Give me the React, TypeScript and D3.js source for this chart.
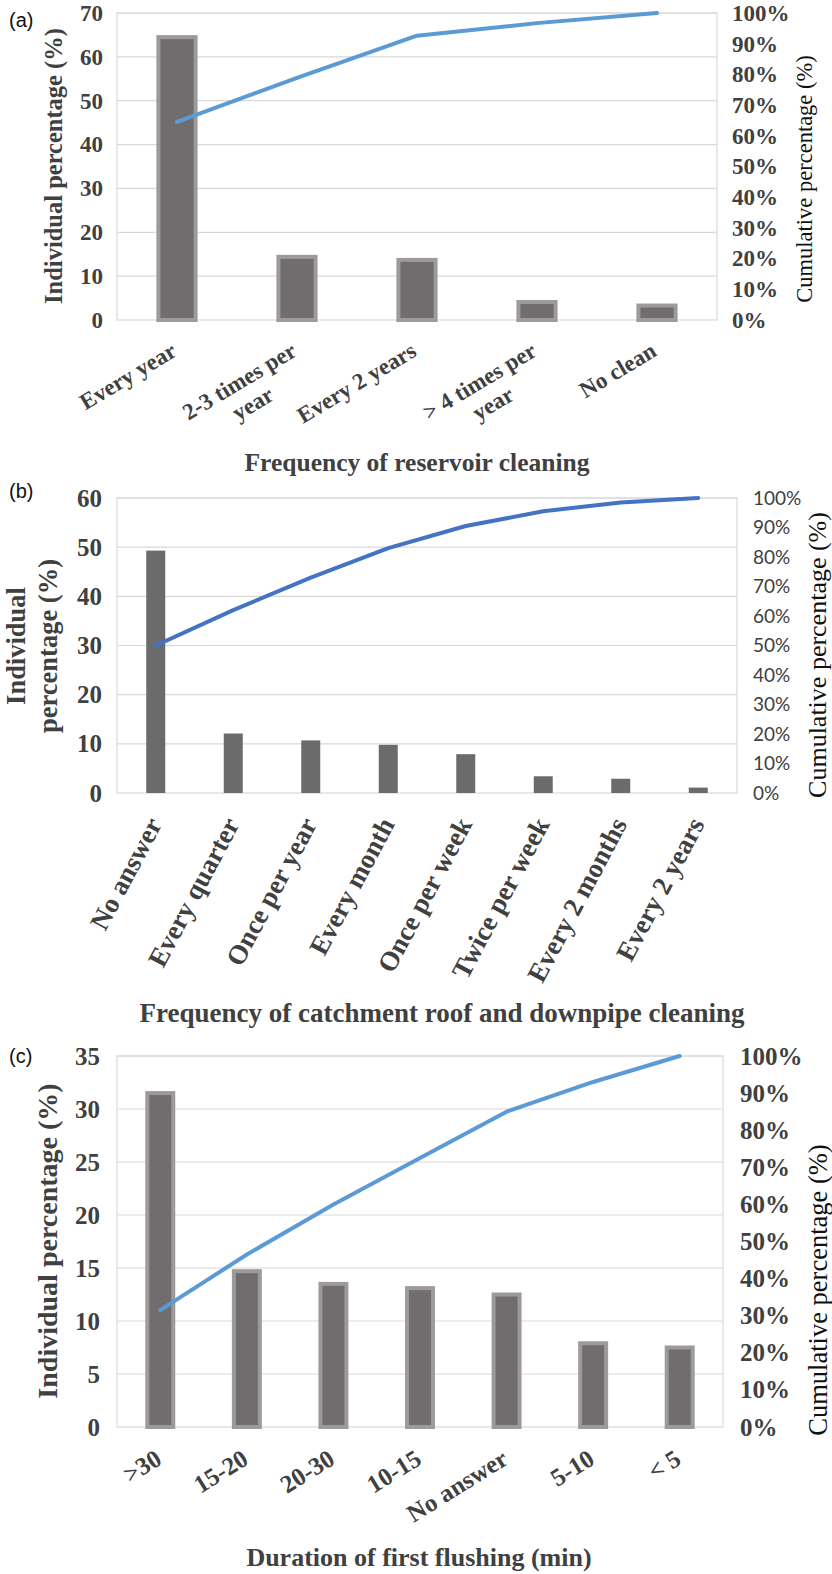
import React, { useEffect, useRef } from 'react';
import * as d3 from 'd3';

// (a) Frequency of reservoir cleaning
const catsA = ['Every year', '2-3 times per\nyear', 'Every 2 years', '> 4 times per\nyear', 'No clean'];
const valsA = [64.5, 14.4, 13.7, 4.1, 3.3];
const cumA = [64.5, 78.9, 92.6, 96.7, 100];
const ticksA = [0, 10, 20, 30, 40, 50, 60, 70];

// (b) Frequency of catchment roof and downpipe cleaning
const catsB = ['No answer', 'Every quarter', 'Once per year', 'Every month', 'Once per week', 'Twice per week', 'Every 2 months', 'Every 2 years'];
const valsB = [49.3, 12.1, 10.7, 9.8, 7.9, 3.4, 2.9, 1.1];
const cumB = [50, 62, 73, 83, 90.5, 95.5, 98.5, 100];
const ticksB = [0, 10, 20, 30, 40, 50, 60];

// (c) Duration of first flushing
const catsC = ['>30', '15-20', '20-30', '10-15', 'No answer', '5-10', '< 5'];
const valsC = [31.5, 14.7, 13.5, 13.1, 12.5, 7.9, 7.5];
const cumC = [31.5, 46.5, 60, 72.5, 85, 93, 100];
const ticksC = [0, 5, 10, 15, 20, 25, 30, 35];

const ticksRight = [0, 10, 20, 30, 40, 50, 60, 70, 80, 90, 100];

const SERIF = '"Liberation Serif", "Times New Roman", serif';
const SANS = '"Liberation Sans", Arial, sans-serif';
const CAL = 'Lato, "Open Sans", sans-serif';

const panels = [
  {
    letter: '(a)', letterY: 27,
    cats: catsA, vals: valsA, cum: cumA, ticks: ticksA,
    top: 13, bottom: 320, left: 117, right: 717,
    barRatio: 0.31, barBorder: true, barFill: '#716c6d', lineColor: '#5b9bd5',
    leftFont: 23, leftPad: 14,
    rightFont: 23, rightFamily: SERIF, rightWeight: 'bold', rightPad: 15,
    catFont: 23, catAngle: -31, catDx: 1, catDy: 35, catLH: 26,
    yTitle: ['Individual percentage (%)'], yTitleX: [62], yTitleY: 166, yTitleSize: 24.5,
    rTitleX: 812, rTitleY: 179, rTitleSize: 22.5,
    xTitle: 'Frequency of reservoir cleaning', xTitleX: 417, xTitleY: 471, xTitleSize: 25.5,
  },
  {
    letter: '(b)', letterY: 498,
    cats: catsB, vals: valsB, cum: cumB, ticks: ticksB,
    top: 498, bottom: 793, left: 117, right: 737,
    barRatio: 0.245, barBorder: false, barFill: '#6b6b6b', lineColor: '#4472c4',
    leftFont: 25, leftPad: 15,
    rightFont: 19, rightFamily: CAL, rightWeight: 'normal', rightPad: 16,
    catFont: 27, catAngle: -62, catDx: 7, catDy: 31, catLH: 30,
    yTitle: ['Individual', 'percentage (%)'], yTitleX: [25, 57], yTitleY: 646, yTitleSize: 26.5,
    rTitleX: 826, rTitleY: 655, rTitleSize: 26,
    xTitle: 'Frequency of catchment roof and downpipe cleaning', xTitleX: 442, xTitleY: 1022, xTitleSize: 27,
  },
  {
    letter: '(c)', letterY: 1063,
    cats: catsC, vals: valsC, cum: cumC, ticks: ticksC,
    top: 1056, bottom: 1427, left: 117, right: 723,
    barRatio: 0.3, barBorder: true, barFill: '#716c6d', lineColor: '#5b9bd5',
    leftFont: 25, leftPad: 17,
    rightFont: 25, rightFamily: SERIF, rightWeight: 'bold', rightPad: 17,
    catFont: 25, catAngle: -32, catDx: 3, catDy: 36, catLH: 28,
    yTitle: ['Individual percentage (%)'], yTitleX: [57], yTitleY: 1241, yTitleSize: 28,
    rTitleX: 827, rTitleY: 1290, rTitleSize: 26.5,
    xTitle: 'Duration of first flushing (min)', xTitleX: 419, xTitleY: 1566, xTitleSize: 26,
  },
];

type Panel = typeof panels[number];

function drawPanel(svg: d3.Selection<SVGSVGElement, unknown, null, undefined>, p: Panel) {
  const g = svg.append('g');
  const x = d3.scaleBand<string>().domain(p.cats).range([p.left, p.right]);
  const y = d3.scaleLinear().domain([0, p.ticks[p.ticks.length - 1]]).range([p.bottom, p.top]);
  const yR = d3.scaleLinear().domain([0, 100]).range([p.bottom, p.top]);
  const cx = (i: number) => (x(p.cats[i]) || 0) + x.bandwidth() / 2;

  // gridlines
  g.append('g')
    .selectAll('line')
    .data(p.ticks.slice(1))
    .join('line')
    .attr('x1', p.left)
    .attr('x2', p.right)
    .attr('y1', d => y(d))
    .attr('y2', d => y(d))
    .attr('stroke', '#d9d9d9')
    .attr('stroke-width', 1.2);

  // plot frame
  g.append('rect')
    .attr('x', p.left)
    .attr('y', p.top)
    .attr('width', p.right - p.left)
    .attr('height', p.bottom - p.top)
    .attr('fill', 'none')
    .attr('stroke', '#d9d9d9')
    .attr('stroke-width', 1.2);

  // bars
  const bw = x.bandwidth() * p.barRatio;
  g.append('g')
    .selectAll('rect')
    .data(p.vals)
    .join('rect')
    .attr('x', (d, i) => cx(i) - bw / 2)
    .attr('y', d => y(d))
    .attr('width', bw)
    .attr('height', d => p.bottom - y(d))
    .attr('fill', p.barFill)
    .attr('stroke', p.barBorder ? '#9d9a9a' : 'none')
    .attr('stroke-width', p.barBorder ? 4 : 0);

  // cumulative line
  const line = d3.line<number>()
    .x((d, i) => cx(i))
    .y(d => yR(d));
  g.append('path')
    .datum(p.cum)
    .attr('d', line)
    .attr('fill', 'none')
    .attr('stroke', p.lineColor)
    .attr('stroke-width', 4)
    .attr('stroke-linejoin', 'round')
    .attr('stroke-linecap', 'round');

  // left axis
  const axL = g.append('g')
    .attr('transform', `translate(${p.left - p.leftPad},0)`)
    .call(d3.axisLeft(y).tickValues(p.ticks).tickSize(0).tickPadding(0));
  axL.select('.domain').remove();
  axL.selectAll('text')
    .attr('font-family', SERIF)
    .attr('font-weight', 'bold')
    .attr('font-size', p.leftFont)
    .attr('fill', '#404040');

  // right axis
  const axR = g.append('g')
    .attr('transform', `translate(${p.right + p.rightPad},0)`)
    .call(d3.axisRight(yR).tickValues(ticksRight).tickFormat(d => `${d}%`).tickSize(0).tickPadding(0));
  axR.select('.domain').remove();
  axR.selectAll('text')
    .attr('font-family', p.rightFamily)
    .attr('font-weight', p.rightWeight)
    .attr('font-size', p.rightFont)
    .attr('fill', '#404040');

  // category labels (multi-line ones centred per line, block ends at the tick)
  p.cats.forEach((c, i) => {
    const lg = g.append('g')
      .attr('transform', `translate(${cx(i) + p.catDx},${p.bottom + p.catDy}) rotate(${p.catAngle})`);
    const t = lg.append('text')
      .attr('font-family', SERIF)
      .attr('font-weight', 'bold')
      .attr('font-size', p.catFont)
      .attr('fill', '#404040')
      .attr('text-anchor', 'middle');
    const parts = c.split('\n');
    const spans = parts.map((s, j) =>
      t.append('tspan').attr('x', 0).attr('y', j * p.catLH).text(s)
    );
    const maxW = d3.max(spans, s => (s.node() as SVGTSpanElement).getComputedTextLength()) || 0;
    spans.forEach(s => s.attr('x', -maxW / 2));
  });

  // left title
  p.yTitle.forEach((s, j) => {
    g.append('text')
      .attr('transform', `translate(${p.yTitleX[j]},${p.yTitleY}) rotate(-90)`)
      .attr('text-anchor', 'middle')
      .attr('font-family', SERIF)
      .attr('font-weight', 'bold')
      .attr('font-size', p.yTitleSize)
      .attr('fill', '#404040')
      .text(s);
  });

  // right title
  g.append('text')
    .attr('transform', `translate(${p.rTitleX},${p.rTitleY}) rotate(-90)`)
    .attr('text-anchor', 'middle')
    .attr('font-family', SERIF)
    .attr('font-size', p.rTitleSize)
    .attr('fill', '#111')
    .text('Cumulative percentage (%)');

  // x title
  g.append('text')
    .attr('x', p.xTitleX)
    .attr('y', p.xTitleY)
    .attr('text-anchor', 'middle')
    .attr('font-family', SERIF)
    .attr('font-weight', 'bold')
    .attr('font-size', p.xTitleSize)
    .attr('fill', '#404040')
    .text(p.xTitle);

  // panel letter
  g.append('text')
    .attr('x', 9)
    .attr('y', p.letterY)
    .attr('font-family', SANS)
    .attr('font-size', 20)
    .attr('fill', '#111')
    .text(p.letter);
}

const App: React.FC = () => {
  const svgRef = useRef<SVGSVGElement>(null);

  useEffect(() => {
    if (!svgRef.current) return;
    const svg = d3.select(svgRef.current);
    svg.selectAll('*').remove();
    svg.append('rect').attr('width', 832).attr('height', 1574).attr('fill', '#fff');
    panels.forEach(p => drawPanel(svg, p));
  }, []);

  return (
    <svg
      ref={svgRef}
      width={832}
      height={1574}
      style={{ position: 'absolute', left: 0, top: 0, display: 'block' }}
    />
  );
};

export default App;
